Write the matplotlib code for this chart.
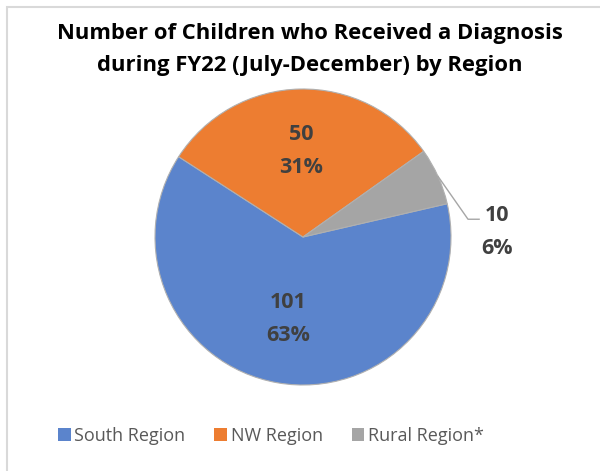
import numpy as np
import matplotlib.pyplot as plt
from matplotlib.patches import Rectangle

regions = ["South Region", "NW Region", "Rural Region*"]
counts = [101, 50, 10]
colors = ["#5B84CC", "#ED7D31", "#A5A5A5"]

plt.rcParams['font.family'] = ['Open Sans', 'DejaVu Sans']

fig = plt.figure(figsize=(6, 4.71), dpi=100)

# chart border like the Excel chart area
fig.patches.append(Rectangle((7 / 600, -0.1), 1.0, 1 - 7 / 471 + 0.1, transform=fig.transFigure,
                             fill=False, edgecolor="#D9D9D9", linewidth=1.5))

fig.text(310 / 600, 1 - 33 / 471, "Number of Children who Received a Diagnosis",
         ha="center", va="center", fontsize=15.8, fontweight="bold", color="black")
fig.text(310 / 600, 1 - 66 / 471, "during FY22 (July-December) by Region",
         ha="center", va="center", fontsize=15.8, fontweight="bold", color="black")

ax = fig.add_axes([155 / 600, 86 / 471, 296 / 600, 296 / 471])
wedges, _ = ax.pie(counts, colors=colors, startangle=13, counterclock=False,
                   wedgeprops=dict(edgecolor="#B0B0B0", linewidth=0.8))
ax.set_xlim(-1, 1)
ax.set_ylim(-1, 1)
ax.set_aspect("equal")

total = sum(counts)
lab_color = "#404040"
# inside labels for South and NW
for w, c, r in zip(wedges[:2], counts[:2], [0.565, 0.58]):
    mid = np.deg2rad((w.theta1 + w.theta2) / 2)
    x, y = r * np.cos(mid), r * np.sin(mid)
    ax.text(x, y, f"{c}\n{round(100 * c / total)}%", ha="center", va="center",
            fontsize=15.5, fontweight="bold", color=lab_color, linespacing=1.75)

# outside label for Rural with leader line
w = wedges[2]
mid = np.deg2rad((w.theta1 + w.theta2) / 2)
px, py = np.cos(mid), np.sin(mid)
ax.plot([px, 1.115, 1.19], [py, 0.12, 0.12], color="#A6A6A6", linewidth=1, clip_on=False)
ax.text(1.31, 0.037, f"{counts[2]}\n{round(100 * counts[2] / total)}%", ha="center", va="center",
        fontsize=15.5, fontweight="bold", color=lab_color, linespacing=1.75)

handles = [Rectangle((0, 0), 1, 1, facecolor=c, edgecolor="none") for c in colors]
fig.legend(handles, regions, loc="center", bbox_to_anchor=(271 / 600, 1 - 436 / 471),
           ncol=3, frameon=False, fontsize=13, labelcolor="#595959",
           handlelength=0.7, handleheight=0.7, handletextpad=0.2, columnspacing=1.6)

fig.savefig("out.png", dpi=100)
